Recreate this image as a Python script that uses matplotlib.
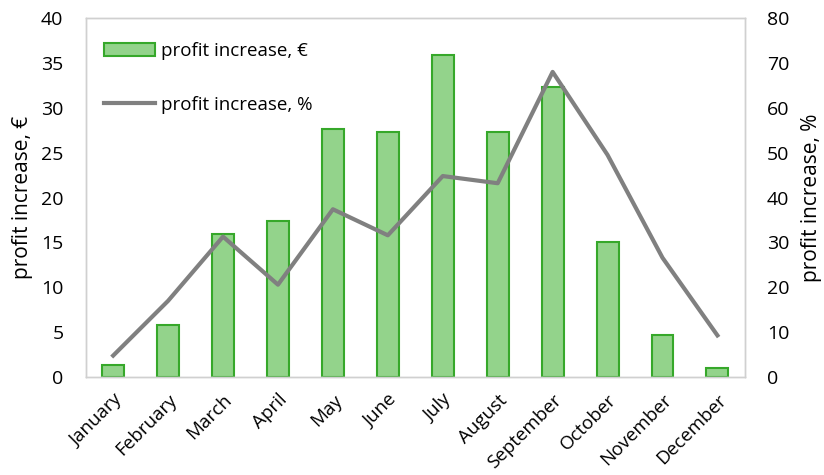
import matplotlib.pyplot as plt
import numpy as np

plt.rcParams['font.family'] = ['Open Sans', 'DejaVu Sans']

months = ["January", "February", "March", "April", "May", "June",
          "July", "August", "September", "October", "November", "December"]
profit_eur = [1.3, 5.8, 15.9, 17.4, 27.6, 27.3, 35.9, 27.3, 32.3, 15.0, 4.7, 1.0]
profit_pct = [4.8, 17.0, 31.3, 20.6, 37.4, 31.6, 44.8, 43.2, 68.0, 49.5, 26.6, 9.3]

x = np.arange(len(months))

fig = plt.figure(figsize=(8.24, 4.75), dpi=100)
ax = fig.add_axes([0.104, 0.206, 0.80, 0.756])
ax2 = ax.twinx()

bars = ax.bar(x, profit_eur, width=0.4, color="#93d38b", edgecolor="#36a82a",
              linewidth=1.5, label="profit increase, €", zorder=2)
line, = ax2.plot(x, profit_pct, color="#808080", linewidth=3,
                 label="profit increase, %")

ax.set_xlim(-0.5, 11.5)
ax.set_ylim(0, 40)
ax.set_yticks(range(0, 41, 5))
ax2.set_ylim(0, 80)
ax2.set_yticks(range(0, 81, 10))

ax.set_xticks(x)
ax.set_xticklabels(months, rotation=45, ha="right", rotation_mode="anchor")

for a in (ax, ax2):
    a.tick_params(length=0, labelsize=14)
    for s in a.spines.values():
        s.set_color("#d0d0d0")
        s.set_linewidth(1)
ax.tick_params(axis="x", pad=10, labelsize=13.5)
ax.tick_params(axis="y", pad=16)
ax2.tick_params(axis="y", pad=16)

ax.set_ylabel("profit increase, €", fontsize=15, labelpad=6)
ax2.set_ylabel("profit increase, %", fontsize=15, labelpad=8)

ax.legend([bars, line], ["profit increase, €", "profit increase, %"],
          loc="upper left", bbox_to_anchor=(0.0, 0.985), frameon=False,
          fontsize=13.5, handlelength=2.7, labelspacing=1.9,
          handletextpad=0.3, borderaxespad=0.6)

fig.savefig("out.png", dpi=100)
